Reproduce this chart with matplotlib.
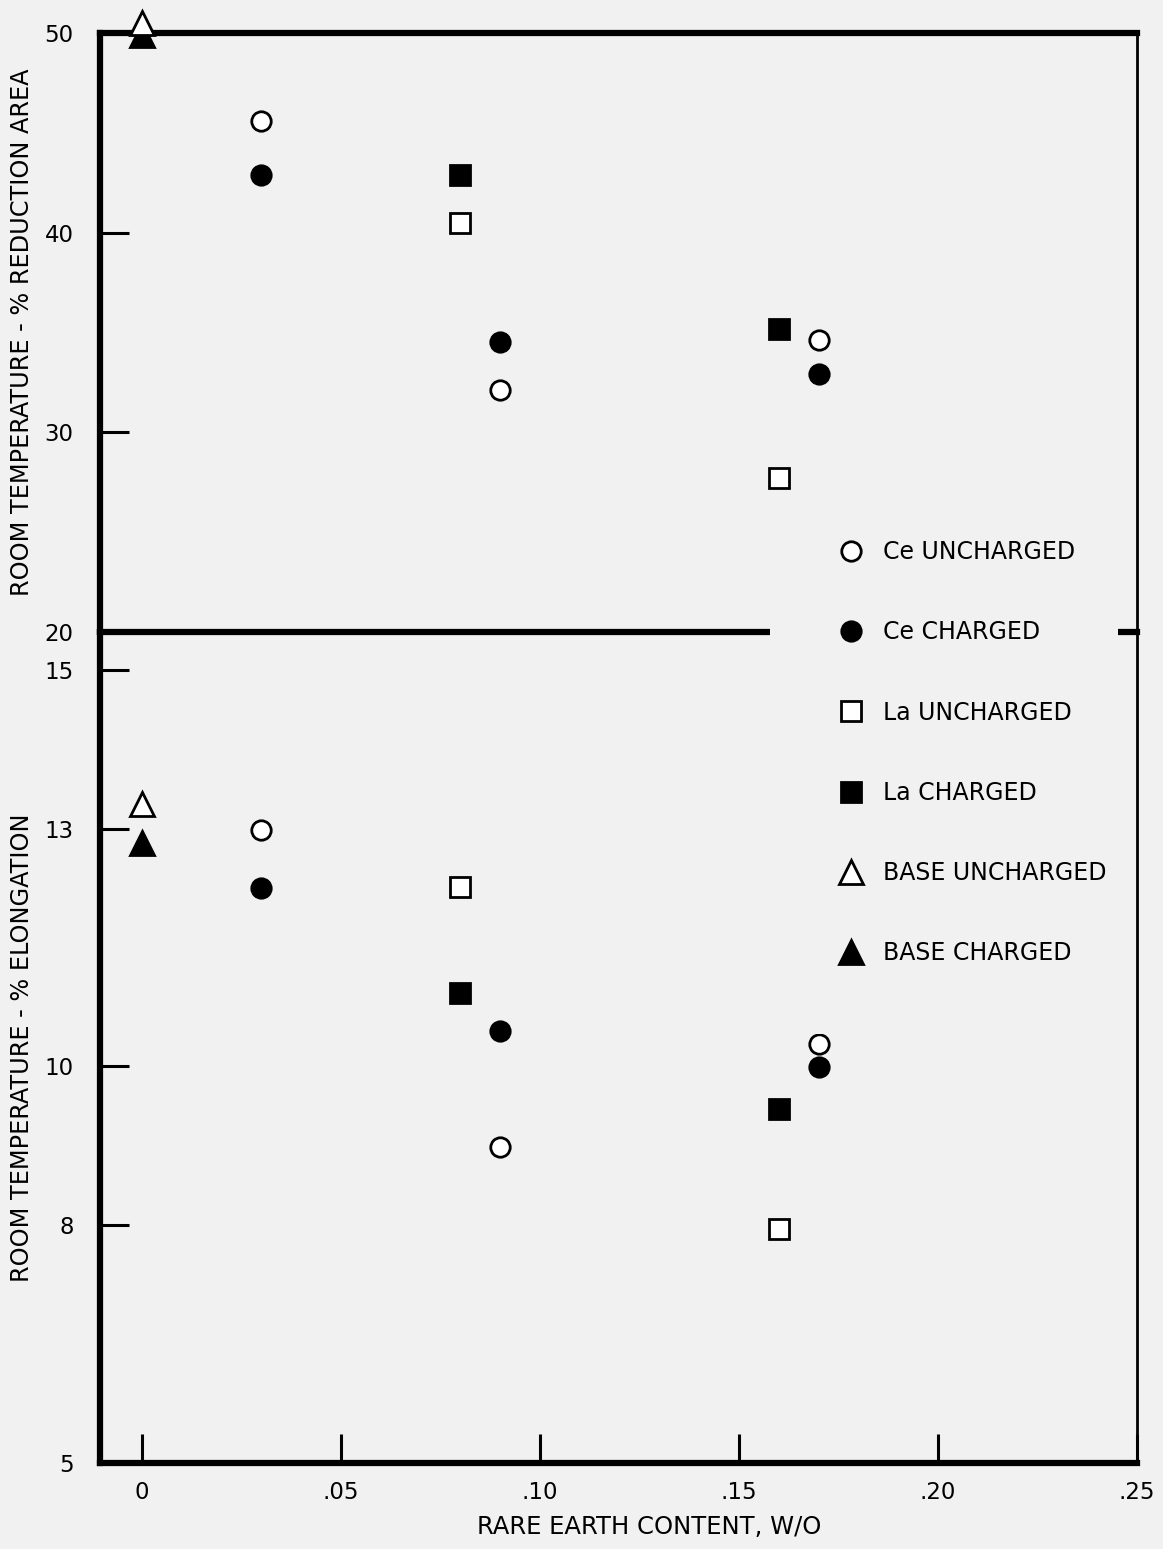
import matplotlib
matplotlib.use("Agg")
import matplotlib.pyplot as plt

# rare earth content (w/o)
x_ce = [0.03, 0.09, 0.17]
x_la = [0.08, 0.16]
x_base = [0.0]

# room temperature % reduction of area
ra_ce_unch = [45.6, 32.1, 34.6]
ra_ce_ch = [42.9, 34.5, 32.9]
ra_la_unch = [40.5, 27.7]
ra_la_ch = [42.9, 35.2]
ra_base_unch = [50.5]
ra_base_ch = [49.9]

# room temperature % elongation
el_ce_unch = [12.98, 8.98, 10.28]
el_ce_ch = [12.25, 10.45, 9.99]
el_la_unch = [12.26, 7.95]
el_la_ch = [10.93, 9.46]
el_base_unch = [13.31]
el_base_ch = [12.82]

xticks = [0, 0.05, 0.10, 0.15, 0.20, 0.25]
xticklabels = ["0", ".05", ".10", ".15", ".20", ".25"]
ra_ticks = [20, 30, 40, 50]
el_ticks = [5, 8, 10, 13, 15]

paper = "#f1f1f1"
plt.rcParams["font.family"] = ["DejaVu Sans"]

fig = plt.figure(figsize=(11.63, 15.49), dpi=100, facecolor=paper)
ax_top = fig.add_axes([0.08598, 0.59199, 0.8917, 0.38670])
ax_bot = fig.add_axes([0.08598, 0.05552, 0.8917, 0.53647])
ax_top.set_zorder(2)
for ax in (ax_top, ax_bot):
    ax.set_facecolor("none")
    ax.set_xlim(-0.01055, 0.25)
    for s in ("left", "top", "bottom"):
        ax.spines[s].set_linewidth(4.5)
    ax.spines["right"].set_linewidth(2)
    ax.tick_params(direction="in", length=21, width=2.2, labelsize=16.5)
    ax.tick_params(axis="y", pad=19)

ax_top.set_ylim(20, 50)
ax_bot.set_ylim(5, 15.479)
ax_bot.spines["top"].set_visible(False)

ax_top.set_yticks(ra_ticks)
ax_top.tick_params(axis="x", bottom=False, labelbottom=False)
ax_bot.set_yticks(el_ticks)
ax_bot.set_xticks(xticks)
ax_bot.set_xticklabels(xticklabels)
ax_bot.tick_params(axis="x", pad=13)

open_kw = dict(mfc="white", mec="black", mew=2, ls="none", clip_on=False, zorder=6)
fill_kw = dict(mfc="black", mec="black", mew=2, ls="none", clip_on=False, zorder=6)

series = [
    (x_ce, ra_ce_unch, el_ce_unch, "o", 14, open_kw, "Ce UNCHARGED"),
    (x_ce, ra_ce_ch, el_ce_ch, "o", 14, fill_kw, "Ce CHARGED"),
    (x_la, ra_la_unch, el_la_unch, "s", 14, open_kw, "La UNCHARGED"),
    (x_la, ra_la_ch, el_la_ch, "s", 14, fill_kw, "La CHARGED"),
    (x_base, ra_base_ch, el_base_ch, "^", 17, fill_kw, "BASE CHARGED"),
    (x_base, ra_base_unch, el_base_unch, "^", 17, open_kw, "BASE UNCHARGED"),
]
handles = {}
for xs, ra, el, m, ms, kw, lab in series:
    h, = ax_top.plot(xs, ra, marker=m, ms=ms, label=lab, **kw)
    ax_bot.plot(xs, el, marker=m, ms=ms, **kw)
    handles[lab] = h

order = ["Ce UNCHARGED", "Ce CHARGED", "La UNCHARGED", "La CHARGED",
         "BASE UNCHARGED", "BASE CHARGED"]
leg = ax_top.legend([handles[k] for k in order], order,
                    loc="upper left", bbox_to_anchor=(0.6621, 0.3, 0.2992, 0.3959),
                    bbox_transform=fig.transFigure, mode="expand",
                    borderaxespad=0, borderpad=2.93, handlelength=1.0,
                    handletextpad=0.85, labelspacing=2.38, fontsize=17,
                    frameon=True, fancybox=False, numpoints=1)
leg.get_frame().set_facecolor(paper)
leg.get_frame().set_edgecolor("none")
leg.get_frame().set_alpha(1)

ax_top.set_ylabel("ROOM TEMPERATURE - % REDUCTION AREA", fontsize=17.3)
ax_bot.set_ylabel("ROOM TEMPERATURE - % ELONGATION", fontsize=17.3)
ax_top.yaxis.set_label_coords(-0.064, 0.5)
ax_bot.yaxis.set_label_coords(-0.064, 0.5)
ax_bot.set_xlabel("RARE EARTH CONTENT, W/O", fontsize=17.5)
ax_bot.xaxis.set_label_coords(0.530, -0.0626)

fig.savefig("out.png", dpi=100, facecolor=paper)
